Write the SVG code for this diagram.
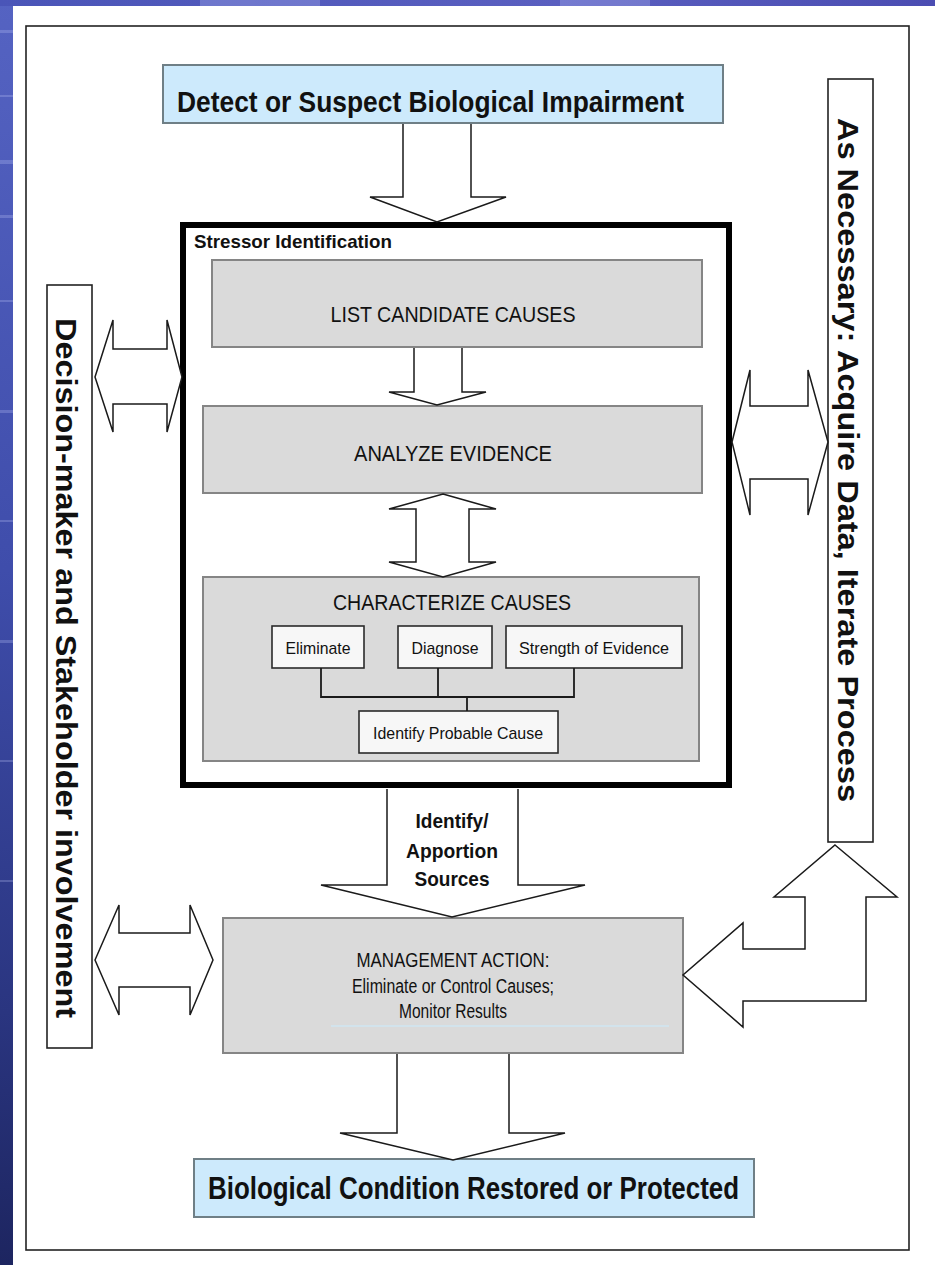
<svg xmlns="http://www.w3.org/2000/svg" width="935" height="1265" viewBox="0 0 935 1265">
<defs>
<linearGradient id="bgL" x1="0" y1="0" x2="0" y2="1">
<stop offset="0" stop-color="#5563c2"/>
<stop offset="0.45" stop-color="#3f4dab"/>
<stop offset="0.8" stop-color="#2a3580"/>
<stop offset="1" stop-color="#1d2560"/>
</linearGradient>
<linearGradient id="bgT" x1="0" y1="0" x2="1" y2="0">
<stop offset="0" stop-color="#4a55b8"/>
<stop offset="0.6" stop-color="#5a5fc0"/>
<stop offset="1" stop-color="#4b4db2"/>
</linearGradient>
<style>
.t{font-family:"Liberation Sans",Arial,sans-serif;fill:#111}
.b{font-weight:bold}
.blue{fill:#cdeafc;stroke:#6f7f86;stroke-width:2}
.gray{fill:#dadada;stroke:#858585;stroke-width:2}
.sub{fill:#f7f7f7;stroke:#2a2a2a;stroke-width:1.6}
.side{fill:#fff;stroke:#222;stroke-width:1.6}
.arr{fill:#fff;stroke:#1a1a1a;stroke-width:1.5;stroke-linejoin:miter}
.ln{fill:none;stroke:#1a1a1a;stroke-width:1.8}
</style>
</defs>
<rect x="0" y="0" width="935" height="1265" fill="#fff"/>
<rect x="0" y="0" width="13" height="1265" fill="url(#bgL)"/>
<rect x="0" y="0" width="935" height="6" fill="url(#bgT)"/>
<g opacity="0.25" fill="#c8d0ff">
<rect x="0" y="30" width="13" height="3"/>
<rect x="0" y="95" width="13" height="2"/>
<rect x="0" y="160" width="13" height="4"/>
<rect x="0" y="215" width="13" height="3"/>
<rect x="0" y="300" width="13" height="2"/>
<rect x="0" y="410" width="13" height="3"/>
<rect x="0" y="520" width="13" height="2"/>
<rect x="0" y="640" width="13" height="3"/>
<rect x="0" y="760" width="13" height="2"/>
<rect x="0" y="880" width="13" height="2"/>
<rect x="200" y="0" width="120" height="6"/>
<rect x="560" y="0" width="90" height="6"/>
</g>
<rect x="26" y="26" width="883" height="1224" fill="none" stroke="#222" stroke-width="1.6"/>

<g id="detect">
<rect class="blue" x="163" y="65" width="560" height="58"/>
<text class="t b" x="177" y="112" font-size="29" textLength="507" lengthAdjust="spacingAndGlyphs">Detect or Suspect Biological  Impairment</text>
</g>
<g id="stressor">
<rect x="183" y="225" width="546" height="560" fill="none" stroke="#000" stroke-width="6"/>
<text class="t b" x="194" y="248" font-size="19" textLength="198" lengthAdjust="spacingAndGlyphs">Stressor Identification</text>
</g>
<g id="list">
<rect class="gray" x="212" y="260" width="490" height="87"/>
<text class="t" x="453" y="322" font-size="22" text-anchor="middle" textLength="245" lengthAdjust="spacingAndGlyphs">LIST CANDIDATE CAUSES</text>
</g>
<g id="analyze">
<rect class="gray" x="203" y="406" width="499" height="87"/>
<text class="t" x="453" y="461" font-size="22" text-anchor="middle" textLength="198" lengthAdjust="spacingAndGlyphs">ANALYZE  EVIDENCE</text>
</g>
<g id="characterize">
<rect class="gray" x="203" y="577" width="496" height="184"/>
<text class="t" x="452" y="610" font-size="22" text-anchor="middle" textLength="238" lengthAdjust="spacingAndGlyphs">CHARACTERIZE CAUSES</text>
</g>
<g id="eliminate">
<rect class="sub" x="272" y="626" width="92" height="42"/>
<text class="t" x="318" y="654" font-size="17" text-anchor="middle" textLength="65" lengthAdjust="spacingAndGlyphs">Eliminate</text>
</g>
<g id="diagnose">
<rect class="sub" x="398" y="626" width="94" height="42"/>
<text class="t" x="445" y="654" font-size="17" text-anchor="middle" textLength="67" lengthAdjust="spacingAndGlyphs">Diagnose</text>
</g>
<g id="strength">
<rect class="sub" x="506" y="626" width="176" height="42"/>
<text class="t" x="594" y="654" font-size="17" text-anchor="middle" textLength="150" lengthAdjust="spacingAndGlyphs">Strength of Evidence</text>
</g>
<g id="probable">
<rect class="sub" x="359" y="711" width="199" height="42"/>
<text class="t" x="458" y="739" font-size="17" text-anchor="middle" textLength="170" lengthAdjust="spacingAndGlyphs">Identify Probable Cause</text>
</g>
<g id="management">
<rect class="gray" x="223" y="918" width="460" height="135"/>
<line x1="331" y1="1026" x2="669" y2="1026" stroke="#cfe6f2" stroke-width="1.5"/>
<text class="t" x="453" y="967" font-size="20" text-anchor="middle" textLength="193" lengthAdjust="spacingAndGlyphs">MANAGEMENT ACTION:</text>
<text class="t" x="453" y="993" font-size="20" text-anchor="middle" textLength="202" lengthAdjust="spacingAndGlyphs">Eliminate or Control Causes;</text>
<text class="t" x="453" y="1018" font-size="20" text-anchor="middle" textLength="108" lengthAdjust="spacingAndGlyphs">Monitor Results</text>
</g>
<g id="restored">
<rect class="blue" x="194" y="1159" width="560" height="58"/>
<text class="t b" x="208" y="1199" font-size="31" textLength="531" lengthAdjust="spacingAndGlyphs">Biological Condition Restored or Protected</text>
</g>
<g id="stakeholder">
<rect class="side" x="47" y="285" width="45" height="763"/>
<text class="t b" transform="translate(56,668) rotate(90)" x="0" y="0" font-size="29" text-anchor="middle" textLength="700" lengthAdjust="spacingAndGlyphs">Decision-maker and Stakeholder involvement</text>
</g>
<g id="acquire">
<rect class="side" x="828" y="79" width="45" height="763"/>
<text class="t b" transform="translate(838,460) rotate(90)" x="0" y="0" font-size="29" text-anchor="middle" textLength="684" lengthAdjust="spacingAndGlyphs">As Necessary: Acquire Data, Iterate Process</text>
</g>

<g id="connectors">
<path class="arr" d="M403,124 V197 H370 L437,222 L506,197 H471 V124"/>
<path class="arr" d="M414,348 V392 H389 L437,405 L486,392 H462 V348"/>
<path class="arr" d="M443,494 L496,509 H469 V562 H496 L443,577 L389,562 H416 V509 H389 Z"/>
<path class="arr" d="M387,789 V885 H321 L452,917 L585,885 H518 V789"/>
<path class="arr" d="M397,1054 V1133 H340 L453,1160 L565,1133 H509 V1054"/>
<path class="arr" d="M95,377 L113,320 V349 H167 V320 L182,377 L167,432 V404 H113 V432 Z"/>
<path class="arr" d="M95,960 L119,905 V933 H190 V905 L213,960 L190,1015 V987 H119 V1015 Z"/>
<path class="arr" d="M732,442 L750,370 V406 H808 V370 L828,442 L808,515 V479 H750 V515 Z"/>
<path class="arr" d="M835,845 L897,897 H866 V1001 H743 V1027 L683,975 L743,923 V949 H805 V897 H774 Z"/>
<path class="ln" d="M321,668 V697 H574 V668 M438,668 V697 M467,697 V711"/>
<text class="t b" x="452" y="828" font-size="21" text-anchor="middle" textLength="73" lengthAdjust="spacingAndGlyphs">Identify/</text>
<text class="t b" x="452" y="858" font-size="21" text-anchor="middle" textLength="92" lengthAdjust="spacingAndGlyphs">Apportion</text>
<text class="t b" x="452" y="886" font-size="21" text-anchor="middle" textLength="75" lengthAdjust="spacingAndGlyphs">Sources</text>
</g>
</svg>
